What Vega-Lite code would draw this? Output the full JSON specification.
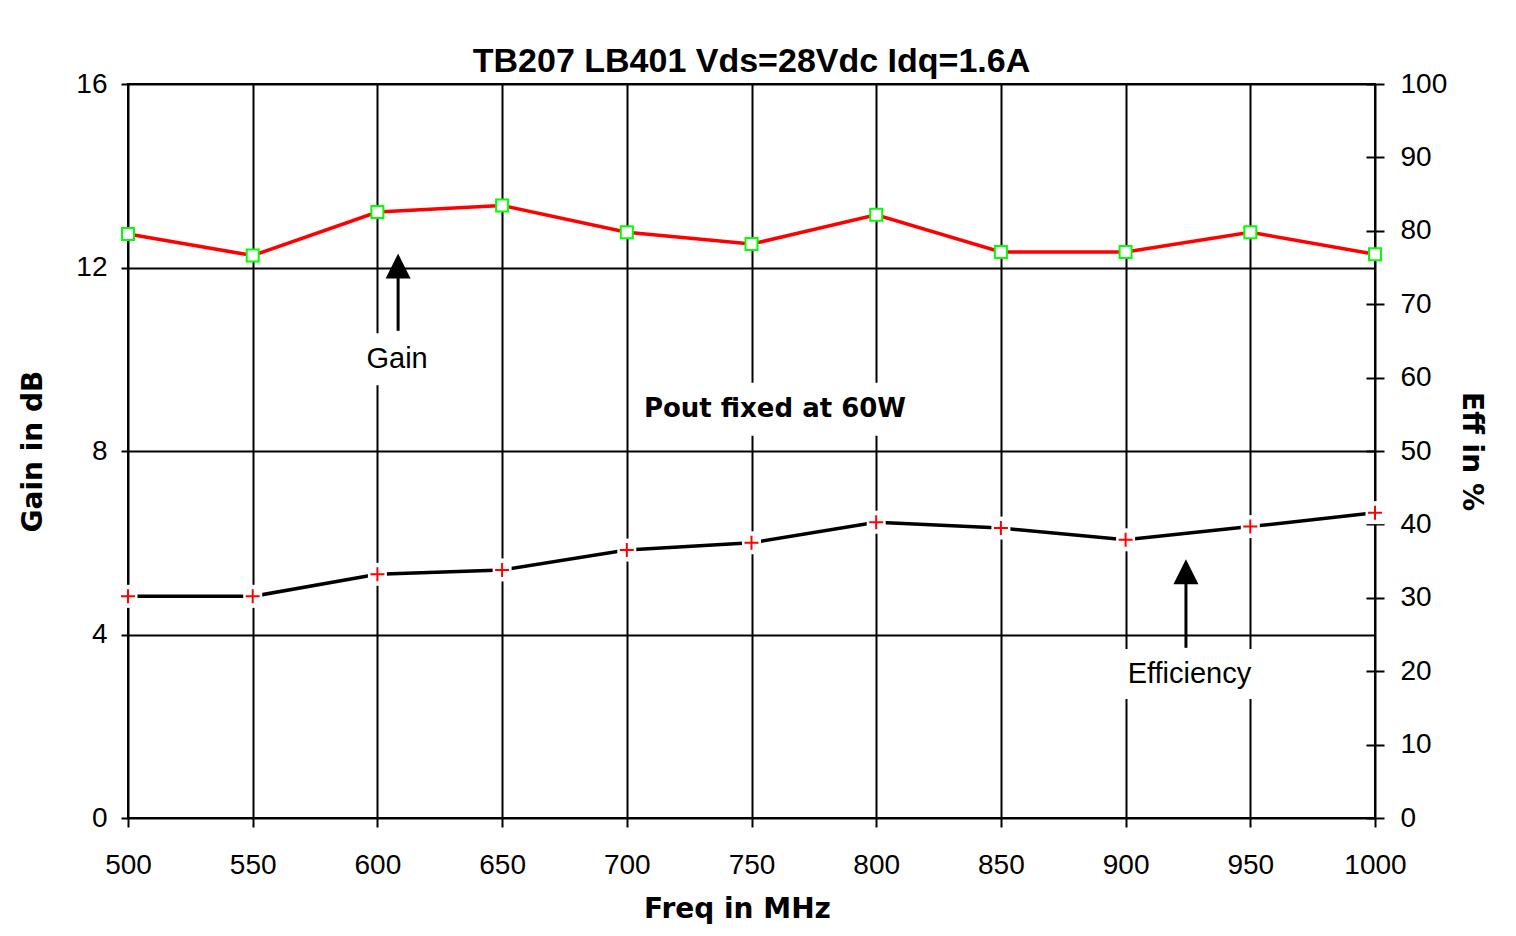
{
  "$schema": "https://vega.github.io/schema/vega-lite/v6.json",
  "width": 1247,
  "height": 734,
  "autosize": {"type": "none"},
  "padding": {"left": 128, "top": 84, "right": 141, "bottom": 118},
  "background": "white",
  "title": {"text": "TB207 LB401 Vds=28Vdc Idq=1.6A", "font": "Liberation Sans", "fontSize": 34, "fontWeight": "bold", "color": "black", "anchor": "middle", "baseline": "alphabetic", "offset": -36},
  "config": {
    "view": {"stroke": "black", "strokeWidth": 2},
    "axis": {"labelFont": "Liberation Sans", "labelFontSize": 28, "labelColor": "black", "labelFlush": false, "labelOverlap": false, "labelBound": false, "tickColor": "black", "tickWidth": 2, "gridColor": "black", "gridWidth": 2, "gridOpacity": 1, "domain": false, "titleFont": "DejaVu Sans", "titleFontSize": 28, "titleFontWeight": "bold", "titleColor": "black"}
  },
  "datasets": {
    "perf": [
      {"freq": 500, "gain": 12.73, "eff": 30.2},
      {"freq": 550, "gain": 12.26, "eff": 30.2},
      {"freq": 600, "gain": 13.21, "eff": 33.2},
      {"freq": 650, "gain": 13.35, "eff": 33.8},
      {"freq": 700, "gain": 12.77, "eff": 36.5},
      {"freq": 750, "gain": 12.51, "eff": 37.5},
      {"freq": 800, "gain": 13.15, "eff": 40.3},
      {"freq": 850, "gain": 12.34, "eff": 39.5},
      {"freq": 900, "gain": 12.34, "eff": 37.9},
      {"freq": 950, "gain": 12.77, "eff": 39.7},
      {"freq": 1000, "gain": 12.29, "eff": 41.6}
    ],
    "labels": [
      {"label": "Gain", "freq": 607.9, "gain": 10.0},
      {"label": "Efficiency", "freq": 925.6, "gain": 3.14},
      {"label": "Pout fixed at 60W", "freq": 759.4, "gain": 8.91}
    ],
    "arrows": [
      {"arrow": "Gain", "freq": 608.3, "tail": 10.62, "head": 12.03},
      {"arrow": "Efficiency", "freq": 924.2, "tail": 3.71, "head": 5.37}
    ]
  },
  "layer": [
    {
      "layer": [
        {
          "data": {"name": "perf"},
          "mark": {"type": "line", "color": "#ff0000", "strokeWidth": 3.5},
          "encoding": {
            "x": {"field": "freq", "type": "quantitative", "scale": {"domain": [500, 1000], "nice": false, "zero": false},
                  "axis": {"values": [500, 550, 600, 650, 700, 750, 800, 850, 900, 950, 1000], "format": "d", "grid": true, "tickSize": 9, "labelPadding": 24, "title": "Freq in MHz", "titlePadding": 16, "titleX": 609}},
            "y": {"field": "gain", "type": "quantitative", "scale": {"domain": [0, 16], "nice": false, "zero": false},
                  "axis": {"orient": "left", "values": [0, 4, 8, 12, 16], "grid": true, "tickSize": 7, "labelPadding": 14, "title": "Gain in dB", "titlePadding": 28}}
          }
        },
        {
          "data": {"name": "labels"},
          "transform": [{"filter": "datum.label == 'Gain'"}],
          "mark": {"type": "point", "shape": "M-0.8,-0.52H0.8V0.52H-0.8Z", "size": 10000, "filled": true, "fill": "white", "strokeWidth": 0, "opacity": 1},
          "encoding": {
            "x": {"field": "freq", "type": "quantitative", "scale": {"domain": [500, 1000], "nice": false, "zero": false}},
            "y": {"field": "gain", "type": "quantitative"}
          }
        },
        {
          "data": {"name": "labels"},
          "transform": [{"filter": "datum.label == 'Efficiency'"}],
          "mark": {"type": "point", "shape": "M-0.72,-0.25H0.72V0.25H-0.72Z", "size": 40000, "filled": true, "fill": "white", "strokeWidth": 0, "opacity": 1},
          "encoding": {
            "x": {"field": "freq", "type": "quantitative", "scale": {"domain": [500, 1000], "nice": false, "zero": false}},
            "y": {"field": "gain", "type": "quantitative"}
          }
        },
        {
          "data": {"name": "labels"},
          "transform": [{"filter": "datum.label == 'Pout fixed at 60W'"}],
          "mark": {"type": "point", "shape": "M-1.36,-0.265H1.36V0.265H-1.36Z", "size": 40000, "filled": true, "fill": "white", "strokeWidth": 0, "opacity": 1},
          "encoding": {
            "x": {"field": "freq", "type": "quantitative", "scale": {"domain": [500, 1000], "nice": false, "zero": false}},
            "y": {"field": "gain", "type": "quantitative"}
          }
        },
        {
          "data": {"name": "perf"},
          "mark": {"type": "point", "shape": "square", "size": 144, "filled": true, "fill": "white", "stroke": "#00ff00", "strokeWidth": 2, "opacity": 1},
          "encoding": {
            "x": {"field": "freq", "type": "quantitative", "scale": {"domain": [500, 1000], "nice": false, "zero": false}},
            "y": {"field": "gain", "type": "quantitative"}
          }
        },
        {
          "data": {"name": "arrows"},
          "mark": {"type": "rule", "color": "black", "strokeWidth": 3},
          "encoding": {
            "x": {"field": "freq", "type": "quantitative", "scale": {"domain": [500, 1000], "nice": false, "zero": false}},
            "y": {"field": "tail", "type": "quantitative"},
            "y2": {"field": "head"}
          }
        },
        {
          "data": {"name": "arrows"},
          "mark": {"type": "point", "shape": "M0,-1L1,1L-1,1Z", "size": 625, "filled": true, "fill": "black", "strokeWidth": 0, "opacity": 1},
          "encoding": {
            "x": {"field": "freq", "type": "quantitative", "scale": {"domain": [500, 1000], "nice": false, "zero": false}},
            "y": {"field": "head", "type": "quantitative"}
          }
        },
        {
          "data": {"name": "labels"},
          "transform": [{"filter": "datum.label != 'Pout fixed at 60W'"}],
          "mark": {"type": "text", "font": "Liberation Sans", "fontSize": 29, "color": "black", "align": "center", "baseline": "middle"},
          "encoding": {
            "x": {"field": "freq", "type": "quantitative", "scale": {"domain": [500, 1000], "nice": false, "zero": false}},
            "y": {"field": "gain", "type": "quantitative"},
            "text": {"field": "label"}
          }
        },
        {
          "data": {"name": "labels"},
          "transform": [{"filter": "datum.label == 'Pout fixed at 60W'"}],
          "mark": {"type": "text", "font": "DejaVu Sans", "fontSize": 26, "fontWeight": "bold", "color": "black", "align": "center", "baseline": "middle"},
          "encoding": {
            "x": {"field": "freq", "type": "quantitative", "scale": {"domain": [500, 1000], "nice": false, "zero": false}},
            "y": {"field": "gain", "type": "quantitative"},
            "text": {"field": "label"}
          }
        }
      ]
    },
    {
      "data": {"name": "perf"},
      "layer": [
        {
          "mark": {"type": "line", "color": "black", "strokeWidth": 3.5},
          "encoding": {
            "x": {"field": "freq", "type": "quantitative", "scale": {"domain": [500, 1000], "nice": false, "zero": false}},
            "y": {"field": "eff", "type": "quantitative", "scale": {"domain": [0, 100], "nice": false, "zero": false},
                  "axis": {"orient": "right", "values": [0, 10, 20, 30, 40, 50, 60, 70, 80, 90, 100], "grid": false, "offset": -9, "tickSize": 18, "labelPadding": 16, "title": "Eff in %", "titlePadding": 10}}
          }
        },
        {
          "mark": {"type": "point", "shape": "M-0.95,-1.15H0.95V1.15H-0.95Z", "size": 400, "filled": true, "fill": "white", "strokeWidth": 0, "opacity": 1},
          "encoding": {
            "x": {"field": "freq", "type": "quantitative", "scale": {"domain": [500, 1000], "nice": false, "zero": false}},
            "y": {"field": "eff", "type": "quantitative"}
          }
        },
        {
          "mark": {"type": "point", "shape": "M-1,0H1M0,-1V1", "size": 196, "filled": false, "stroke": "#ff0000", "strokeWidth": 2, "opacity": 1},
          "encoding": {
            "x": {"field": "freq", "type": "quantitative", "scale": {"domain": [500, 1000], "nice": false, "zero": false}},
            "y": {"field": "eff", "type": "quantitative"}
          }
        }
      ]
    }
  ],
  "resolve": {"scale": {"y": "independent"}}
}
